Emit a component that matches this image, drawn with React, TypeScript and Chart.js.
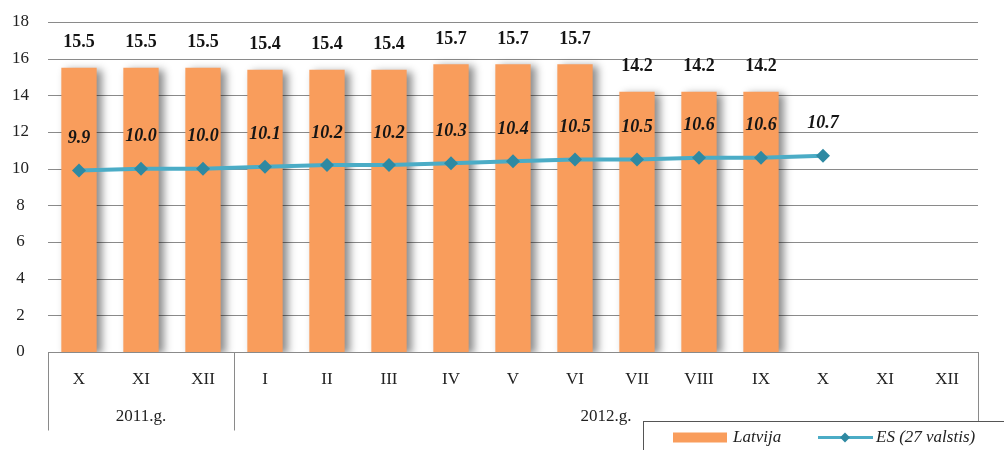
import React, { useEffect, useRef } from "react";
import { Chart, registerables } from "chart.js";

Chart.register(...registerables);

const categories = ["X", "XI", "XII", "I", "II", "III", "IV", "V", "VI", "VII", "VIII", "IX", "X", "XI", "XII"];
const groupLabels = ["2011.g.", "2012.g."];
const groupSizes = [3, 12];
const latvija = [15.5, 15.5, 15.5, 15.4, 15.4, 15.4, 15.7, 15.7, 15.7, 14.2, 14.2, 14.2, null, null, null];
const es = [9.9, 10.0, 10.0, 10.1, 10.2, 10.2, 10.3, 10.4, 10.5, 10.5, 10.6, 10.6, 10.7, null, null];
const seriesNames = ["Latvija", "ES (27 valstis)"];
const yMin = 0;
const yMax = 18;
const yStep = 2;

const SERIF = "'Liberation Serif', 'DejaVu Serif', serif";
const ORANGE = "#F99D5C";
const TEAL = "#4BACC6";
const TEAL_DARK = "#2E89A2";
const GRID = "#8a8a8a";

const gridPlugin = {
  id: "customGrid",
  beforeDatasetsDraw(chart: any) {
    const ctx = chart.ctx;
    const xs = chart.scales.x;
    const ys = chart.scales.y;
    const half = (xs.getPixelForValue(1) - xs.getPixelForValue(0)) / 2;
    const x0 = xs.getPixelForValue(0) - half;
    const x1 = xs.getPixelForValue(categories.length - 1) + half;
    ctx.save();
    ctx.strokeStyle = GRID;
    ctx.lineWidth = 1;
    for (let v = yMin; v <= yMax; v += yStep) {
      const y = Math.round(ys.getPixelForValue(v)) + 0.5;
      ctx.beginPath();
      ctx.moveTo(x0, y);
      ctx.lineTo(x1, y);
      ctx.stroke();
    }
    ctx.restore();
  },
};

const shadowPlugin = {
  id: "barShadow",
  beforeDatasetDraw(chart: any, args: any) {
    if (args.index === 0) {
      const ctx = chart.ctx;
      ctx.save();
      ctx.shadowColor = "rgba(0,0,0,0.45)";
      ctx.shadowBlur = 8;
      ctx.shadowOffsetX = 5;
      ctx.shadowOffsetY = 2;
    }
  },
  afterDatasetDraw(chart: any, args: any) {
    if (args.index === 0) chart.ctx.restore();
  },
};

const labelsPlugin = {
  id: "valueLabels",
  afterDatasetsDraw(chart: any) {
    const ctx = chart.ctx;
    ctx.save();
    ctx.textAlign = "center";
    ctx.textBaseline = "middle";
    ctx.fillStyle = "#151515";
    const barMeta = chart.getDatasetMeta(0);
    ctx.font = `bold 18px ${SERIF}`;
    barMeta.data.forEach((el: any, i: number) => {
      const v = latvija[i];
      if (v == null) return;
      ctx.fillText(v.toFixed(1), el.x, el.y - 25);
    });
    const lineMeta = chart.getDatasetMeta(1);
    ctx.font = `italic bold 18px ${SERIF}`;
    lineMeta.data.forEach((el: any, i: number) => {
      const v = es[i];
      if (v == null) return;
      ctx.fillText(v.toFixed(1), el.x, el.y - 32);
    });
    ctx.restore();
  },
};

const axisBoxPlugin = {
  id: "axisBox",
  afterDraw(chart: any) {
    const ctx = chart.ctx;
    const xs = chart.scales.x;
    const ys = chart.scales.y;
    const half = (xs.getPixelForValue(1) - xs.getPixelForValue(0)) / 2;
    const base = Math.round(ys.getPixelForValue(yMin)) + 0.5;
    const sepBottom = base + 78;
    const legendTop = 421.5;
    ctx.save();
    ctx.strokeStyle = GRID;
    ctx.lineWidth = 1;
    let idx = 0;
    const bounds: number[] = [xs.getPixelForValue(0) - half];
    groupSizes.forEach((n) => {
      idx += n;
      bounds.push(xs.getPixelForValue(idx - 1) + half);
    });
    bounds.forEach((bx, i) => {
      const x = Math.round(bx) + 0.5;
      ctx.beginPath();
      ctx.moveTo(x, base);
      ctx.lineTo(x, i === bounds.length - 1 ? legendTop : sepBottom);
      ctx.stroke();
    });
    ctx.fillStyle = "#222";
    ctx.font = `17px ${SERIF}`;
    ctx.textAlign = "center";
    ctx.textBaseline = "middle";
    groupLabels.forEach((g, i) => {
      const cx = (bounds[i] + bounds[i + 1]) / 2;
      ctx.fillText(g, cx, base + 64);
    });
    // legend box
    const lx = 643.5;
    ctx.fillStyle = "#fff";
    ctx.fillRect(lx, legendTop, 400, 60);
    ctx.strokeStyle = "#555";
    ctx.strokeRect(lx, legendTop, 400, 60);
    const ly = 437.5;
    ctx.fillStyle = ORANGE;
    ctx.fillRect(673, ly - 5, 54, 10);
    ctx.fillStyle = "#222";
    ctx.font = `italic 17px ${SERIF}`;
    ctx.textAlign = "left";
    ctx.fillText(seriesNames[0], 733, ly);
    ctx.strokeStyle = TEAL;
    ctx.lineWidth = 3;
    ctx.beginPath();
    ctx.moveTo(818, ly);
    ctx.lineTo(873, ly);
    ctx.stroke();
    ctx.fillStyle = TEAL_DARK;
    ctx.beginPath();
    ctx.moveTo(845, ly - 5);
    ctx.lineTo(850, ly);
    ctx.lineTo(845, ly + 5);
    ctx.lineTo(840, ly);
    ctx.closePath();
    ctx.fill();
    ctx.fillStyle = "#222";
    ctx.fillText(seriesNames[1], 876, ly);
    ctx.restore();
  },
};

export default function App() {
  const ref = useRef<HTMLCanvasElement | null>(null);
  useEffect(() => {
    if (!ref.current) return;
    const chart = new Chart(ref.current, {
      type: "bar",
      data: {
        labels: categories,
        datasets: [
          {
            type: "bar",
            label: seriesNames[0],
            data: latvija as any,
            backgroundColor: ORANGE,
            borderWidth: 0,
            categoryPercentage: 1,
            barPercentage: 0.57,
            order: 1,
          },
          {
            type: "line",
            label: seriesNames[1],
            data: es as any,
            borderColor: TEAL,
            borderWidth: 4,
            pointStyle: "rectRot",
            pointRadius: 7,
            pointBackgroundColor: TEAL_DARK,
            pointBorderColor: TEAL_DARK,
            pointBorderWidth: 0,
            tension: 0,
            spanGaps: false,
            order: 0,
          } as any,
        ],
      },
      options: {
        animation: false,
        responsive: true,
        maintainAspectRatio: false,
        layout: { autoPadding: false, padding: { top: 22, right: 26, left: 0, bottom: 0 } },
        plugins: { legend: { display: false }, tooltip: { enabled: false }, title: { display: false } },
        scales: {
          x: {
            grid: { display: false, drawTicks: false },
            border: { display: true, color: GRID, width: 1 },
            ticks: { color: "#222", font: { family: SERIF, size: 17 }, padding: 17, autoSkip: false, maxRotation: 0 },
            afterFit: (s: any) => {
              s.height = 98;
            },
          },
          y: {
            min: yMin,
            max: yMax,
            ticks: { stepSize: yStep, color: "#222", font: { family: SERIF, size: 17 }, padding: 3, crossAlign: "center" },
            grid: { display: false, drawTicks: true, tickLength: 16 },
            border: { display: false },
            afterFit: (s: any) => {
              s.width = 48;
            },
          },
        },
      },
      plugins: [gridPlugin, shadowPlugin, labelsPlugin, axisBoxPlugin],
    });
    return () => chart.destroy();
  }, []);
  return (
    <div style={{ position: "absolute", left: 0, top: 0, width: 1004, height: 450, background: "#fff" }}>
      <canvas ref={ref} />
    </div>
  );
}
